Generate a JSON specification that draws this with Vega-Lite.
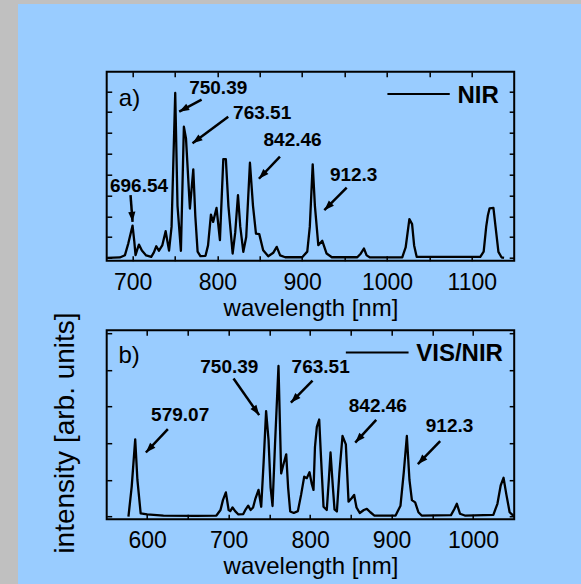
{
  "$schema": "https://vega.github.io/schema/vega-lite/v6.json",
  "background": "#99CCFF",
  "padding": 0,
  "spacing": 0,
  "bounds": "flush",
  "config": {
    "font": "Liberation Sans",
    "axis": {"domain": false, "grid": false, "tickColor": "black", "tickWidth": 1.5, "tickSize": -5, "labelColor": "black", "labelFont": "Liberation Sans", "titleFont": "Liberation Sans", "titleColor": "black", "titleFontWeight": "normal", "labelFlush": false, "labelOverlap": false},
    "text": {"font": "Liberation Sans", "color": "black"}
  },
  "datasets": {
    "nir": [
      {"w": 670, "v": 0.0}, {"w": 685, "v": 0.02}, {"w": 691, "v": 0.13}, {"w": 695, "v": 0.7}, {"w": 700, "v": 1.55}, {"w": 702, "v": 0.8}, {"w": 703.5, "v": 0.13}, {"w": 705.5, "v": 0.4}, {"w": 707.5, "v": 0.64}, {"w": 711, "v": 0.35}, {"w": 716, "v": 0.12}, {"w": 722, "v": 0.05}, {"w": 725, "v": 0.25}, {"w": 728, "v": 0.56}, {"w": 731, "v": 0.34}, {"w": 735, "v": 0.6}, {"w": 739, "v": 1.28}, {"w": 743, "v": 0.35}, {"w": 746, "v": 1.5}, {"w": 750.3, "v": 7.92}, {"w": 753, "v": 2.5}, {"w": 757, "v": 0.34}, {"w": 760.5, "v": 6.3}, {"w": 763, "v": 5.74}, {"w": 767.6, "v": 2.37}, {"w": 771.6, "v": 4.25}, {"w": 774, "v": 2.0}, {"w": 776.7, "v": 0.3}, {"w": 780, "v": 0.08}, {"w": 786, "v": 0.1}, {"w": 789, "v": 0.6}, {"w": 792.4, "v": 2.08}, {"w": 795, "v": 1.73}, {"w": 799, "v": 2.4}, {"w": 803, "v": 0.85}, {"w": 807, "v": 4.74}, {"w": 810, "v": 4.74}, {"w": 813, "v": 2.5}, {"w": 818, "v": 0.21}, {"w": 821, "v": 1.2}, {"w": 824.3, "v": 3.01}, {"w": 827, "v": 1.5}, {"w": 830.6, "v": 0.29}, {"w": 834, "v": 1.0}, {"w": 838.4, "v": 4.57}, {"w": 842, "v": 2.5}, {"w": 845.5, "v": 1.17}, {"w": 849.4, "v": 1.14}, {"w": 854, "v": 0.37}, {"w": 860, "v": 0.08}, {"w": 866, "v": 0.25}, {"w": 870, "v": 0.53}, {"w": 874, "v": 0.12}, {"w": 880, "v": 0.03}, {"w": 900, "v": 0.03}, {"w": 906, "v": 0.3}, {"w": 909, "v": 1.5}, {"w": 912.4, "v": 4.49}, {"w": 915, "v": 2.5}, {"w": 919, "v": 0.61}, {"w": 923.7, "v": 0.82}, {"w": 928.8, "v": 0.21}, {"w": 935, "v": 0.03}, {"w": 965, "v": 0.03}, {"w": 969, "v": 0.2}, {"w": 972.8, "v": 0.45}, {"w": 976, "v": 0.12}, {"w": 980, "v": 0.02}, {"w": 1018, "v": 0.03}, {"w": 1022, "v": 0.5}, {"w": 1026.4, "v": 1.86}, {"w": 1029.6, "v": 1.62}, {"w": 1032, "v": 0.6}, {"w": 1035, "v": 0.05}, {"w": 1110, "v": 0.05}, {"w": 1114, "v": 0.3}, {"w": 1117, "v": 1.5}, {"w": 1119, "v": 2.05}, {"w": 1121, "v": 2.38}, {"w": 1125.5, "v": 2.4}, {"w": 1128, "v": 1.5}, {"w": 1131.4, "v": 0.29}, {"w": 1135, "v": 0.03}, {"w": 1138, "v": 0.0}
    ],
    "vis": [
      {"w": 577, "v": 0.0}, {"w": 581, "v": 0.82}, {"w": 585.3, "v": 2.11}, {"w": 588, "v": 1.0}, {"w": 592, "v": 0.09}, {"w": 600, "v": 0.06}, {"w": 620, "v": 0.03}, {"w": 660, "v": 0.02}, {"w": 685, "v": 0.03}, {"w": 690, "v": 0.18}, {"w": 693, "v": 0.45}, {"w": 696.6, "v": 0.66}, {"w": 700, "v": 0.18}, {"w": 702, "v": 0.15}, {"w": 704.8, "v": 0.25}, {"w": 708, "v": 0.15}, {"w": 712, "v": 0.06}, {"w": 718, "v": 0.07}, {"w": 721, "v": 0.2}, {"w": 724, "v": 0.3}, {"w": 727, "v": 0.18}, {"w": 730, "v": 0.25}, {"w": 733, "v": 0.5}, {"w": 736.7, "v": 0.73}, {"w": 740, "v": 0.27}, {"w": 743, "v": 1.5}, {"w": 746, "v": 2.88}, {"w": 749, "v": 2.09}, {"w": 751.5, "v": 0.8}, {"w": 753.9, "v": 0.29}, {"w": 757, "v": 2.0}, {"w": 761.2, "v": 4.11}, {"w": 764.5, "v": 1.18}, {"w": 767, "v": 1.4}, {"w": 770.7, "v": 1.7}, {"w": 773, "v": 0.8}, {"w": 775.6, "v": 0.14}, {"w": 780, "v": 0.1}, {"w": 785, "v": 0.15}, {"w": 789, "v": 0.6}, {"w": 792.8, "v": 1.09}, {"w": 796, "v": 1.05}, {"w": 799.3, "v": 1.21}, {"w": 802, "v": 0.9}, {"w": 804.2, "v": 0.73}, {"w": 806, "v": 1.9}, {"w": 808.3, "v": 2.45}, {"w": 811.2, "v": 2.65}, {"w": 813, "v": 1.8}, {"w": 816.5, "v": 0.27}, {"w": 820.5, "v": 0.18}, {"w": 823, "v": 1.0}, {"w": 825.1, "v": 1.75}, {"w": 828, "v": 0.8}, {"w": 830, "v": 0.2}, {"w": 832.9, "v": 0.14}, {"w": 836, "v": 1.2}, {"w": 839.8, "v": 2.2}, {"w": 843.9, "v": 1.97}, {"w": 847.2, "v": 0.41}, {"w": 851, "v": 0.5}, {"w": 854.1, "v": 0.59}, {"w": 857, "v": 0.25}, {"w": 861, "v": 0.1}, {"w": 866, "v": 0.18}, {"w": 869.7, "v": 0.21}, {"w": 874, "v": 0.12}, {"w": 879, "v": 0.03}, {"w": 905, "v": 0.03}, {"w": 911, "v": 0.3}, {"w": 915, "v": 1.2}, {"w": 918.8, "v": 2.2}, {"w": 922, "v": 1.0}, {"w": 925, "v": 0.45}, {"w": 929, "v": 0.39}, {"w": 933, "v": 0.12}, {"w": 937, "v": 0.03}, {"w": 973, "v": 0.04}, {"w": 977, "v": 0.2}, {"w": 980.2, "v": 0.35}, {"w": 984, "v": 0.08}, {"w": 990, "v": 0.03}, {"w": 1025, "v": 0.05}, {"w": 1030, "v": 0.35}, {"w": 1034, "v": 0.85}, {"w": 1037.5, "v": 1.06}, {"w": 1041, "v": 0.6}, {"w": 1045, "v": 0.12}, {"w": 1049.8, "v": 0.02}
    ],
    "numA": [
      {"w": 707.6, "v": 3.14, "label": "696.54"}, {"w": 801, "v": 7.85, "label": "750.39"}, {"w": 852.8, "v": 6.65, "label": "763.51"}, {"w": 888.7, "v": 5.37, "label": "842.46"}, {"w": 960.7, "v": 3.7, "label": "912.3"}
    ],
    "arrA": [
      {"w": 697.6, "v": 3.01, "w2": 700, "v2": 1.73, "angle": 175.7}, {"w": 781.4, "v": 7.6, "w2": 755, "v2": 7.02, "angle": 241.1}, {"w": 812.8, "v": 6.78, "w2": 770.7, "v2": 5.5, "angle": 233.2}, {"w": 873.8, "v": 4.86, "w2": 849, "v2": 3.8, "angle": 223.7}, {"w": 952.5, "v": 3.37, "w2": 926.1, "v2": 2.29, "angle": 225}
    ],
    "legLineA": [{"w": 1000.5, "w2": 1074, "v": 7.87}],
    "legTextA": [{"w": 1083, "v": 7.42, "label": "NIR"}],
    "panelA": [{"w": 683.8, "v": 7.31, "label": "a)"}],
    "numB": [
      {"w": 640.5, "v": 2.62, "label": "579.07"}, {"w": 700.9, "v": 3.93, "label": "750.39"}, {"w": 813, "v": 3.93, "label": "763.51"}, {"w": 883.2, "v": 2.86, "label": "842.46"}, {"w": 971.2, "v": 2.32, "label": "912.3"}
    ],
    "arrB": [
      {"w": 625.4, "v": 2.39, "w2": 598.4, "v2": 1.75, "angle": 223.3}, {"w": 706, "v": 3.77, "w2": 737.5, "v2": 2.77, "angle": 145}, {"w": 803, "v": 3.71, "w2": 776.4, "v2": 3.11, "angle": 224.6}, {"w": 881.2, "v": 2.64, "w2": 855.4, "v2": 2.02, "angle": 222.8}, {"w": 959.7, "v": 2.06, "w2": 932.3, "v2": 1.43, "angle": 223.7}
    ],
    "legLineB": [{"w": 843.9, "w2": 920.9, "v": 4.48}],
    "legTextB": [{"w": 930.3, "v": 4.25, "label": "VIS/NIR"}],
    "panelB": [{"w": 564.8, "v": 4.18, "label": "b)"}]
  },
  "vconcat": [
    {
      "width": 581, "height": 4,
      "view": {"fill": "#C0C0C0", "stroke": null},
      "data": {"values": []},
      "mark": "point",
      "encoding": {}
    },
    {
      "spacing": 88.7,
      "bounds": "flush",
      "hconcat": [
        {
          "width": 18, "height": 580,
          "view": {"fill": "#C0C0C0", "stroke": null},
          "data": {"values": []},
          "mark": "point",
          "encoding": {}
        },
        {
          "spacing": 66.7,
          "bounds": "flush",
          "vconcat": [
            {
              "width": 407.5, "height": 1,
              "view": {"stroke": null},
              "data": {"values": []},
              "mark": "point",
              "encoding": {}
            },
            {
              "spacing": 69.5,
              "bounds": "flush",
              "vconcat": [
                {
                  "width": 407.5, "height": 189,
                  "view": {"stroke": "black", "strokeWidth": 2},
                  "resolve": {"axis": {"x": "independent", "y": "independent"}},
                  "layer": [
                    {
                      "data": {"name": "nir"},
                      "mark": {"type": "line", "color": "black", "strokeWidth": 2.3, "strokeJoin": "round", "clip": true},
                      "encoding": {
                        "x": {"field": "w", "type": "quantitative", "scale": {"domain": [669.5, 1150], "nice": false, "zero": false},
                          "axis": {"orient": "bottom", "values": [700, 750, 800, 850, 900, 950, 1000, 1050, 1100], "labelExpr": "datum.value % 100 === 0 ? '' + datum.value : ''", "labelFontSize": 23, "labelBaseline": "alphabetic", "labelPadding": 33.8, "title": "wavelength [nm]", "titleFontSize": 24, "titleBaseline": "alphabetic", "titleAlign": "center", "titleX": 203.75, "titleY": 54.5}},
                        "y": {"field": "v", "type": "quantitative", "scale": {"domain": [-0.135, 8.94], "nice": false, "zero": false},
                          "axis": {"orient": "left", "values": [0, 1, 2, 3, 4, 5, 6, 7, 8], "labels": false, "title": null}}
                      }
                    },
                    {
                      "data": {"name": "numA"},
                      "mark": {"type": "text", "fontWeight": "bold", "fontSize": 19, "align": "center", "baseline": "alphabetic", "color": "black"},
                      "encoding": {
                        "x": {"field": "w", "type": "quantitative", "scale": {"domain": [669.5, 1150], "nice": false, "zero": false},
                          "axis": {"orient": "top", "values": [700, 750, 800, 850, 900, 950, 1000, 1050, 1100], "labels": false, "title": null}},
                        "y": {"field": "v", "type": "quantitative", "scale": {"domain": [-0.135, 8.94], "nice": false, "zero": false},
                          "axis": {"orient": "right", "values": [0, 1, 2, 3, 4, 5, 6, 7, 8], "labels": false, "title": null}},
                        "text": {"field": "label"}
                      }
                    },
                    {
                      "data": {"name": "arrA"},
                      "mark": {"type": "rule", "color": "black", "strokeWidth": 2.5},
                      "encoding": {
                        "x": {"field": "w", "type": "quantitative", "scale": {"domain": [669.5, 1150], "nice": false, "zero": false}, "axis": null},
                        "y": {"field": "v", "type": "quantitative", "scale": {"domain": [-0.135, 8.94], "nice": false, "zero": false}, "axis": null},
                        "x2": {"field": "w2"},
                        "y2": {"field": "v2"}
                      }
                    },
                    {
                      "data": {"name": "arrA"},
                      "mark": {"type": "point", "shape": "M0,0L-0.36,1L0.36,1Z", "filled": true, "color": "black", "opacity": 1, "size": 400},
                      "encoding": {
                        "x": {"field": "w2", "type": "quantitative", "scale": {"domain": [669.5, 1150], "nice": false, "zero": false}, "axis": null},
                        "y": {"field": "v2", "type": "quantitative", "scale": {"domain": [-0.135, 8.94], "nice": false, "zero": false}, "axis": null},
                        "angle": {"field": "angle", "type": "quantitative", "scale": null}
                      }
                    },
                    {
                      "data": {"name": "legLineA"},
                      "mark": {"type": "rule", "color": "black", "strokeWidth": 2},
                      "encoding": {
                        "x": {"field": "w", "type": "quantitative", "scale": {"domain": [669.5, 1150], "nice": false, "zero": false}, "axis": null},
                        "x2": {"field": "w2"},
                        "y": {"field": "v", "type": "quantitative", "scale": {"domain": [-0.135, 8.94], "nice": false, "zero": false}, "axis": null}
                      }
                    },
                    {
                      "data": {"name": "legTextA"},
                      "mark": {"type": "text", "fontWeight": "bold", "fontSize": 24, "align": "left", "baseline": "alphabetic", "color": "black"},
                      "encoding": {
                        "x": {"field": "w", "type": "quantitative", "scale": {"domain": [669.5, 1150], "nice": false, "zero": false}, "axis": null},
                        "y": {"field": "v", "type": "quantitative", "scale": {"domain": [-0.135, 8.94], "nice": false, "zero": false}, "axis": null},
                        "text": {"field": "label"}
                      }
                    },
                    {
                      "data": {"name": "panelA"},
                      "mark": {"type": "text", "fontWeight": "normal", "fontSize": 24, "align": "left", "baseline": "alphabetic", "color": "black"},
                      "encoding": {
                        "x": {"field": "w", "type": "quantitative", "scale": {"domain": [669.5, 1150], "nice": false, "zero": false}, "axis": null},
                        "y": {"field": "v", "type": "quantitative", "scale": {"domain": [-0.135, 8.94], "nice": false, "zero": false}, "axis": null},
                        "text": {"field": "label"}
                      }
                    }
                  ]
                },
                {
                  "width": 407.5, "height": 189,
                  "view": {"stroke": "black", "strokeWidth": 2},
                  "resolve": {"axis": {"x": "independent", "y": "independent"}},
                  "layer": [
                    {
                      "data": {"name": "vis"},
                      "mark": {"type": "line", "color": "black", "strokeWidth": 2.3, "strokeJoin": "round", "clip": true},
                      "encoding": {
                        "x": {"field": "w", "type": "quantitative", "scale": {"domain": [550.3, 1050.6], "nice": false, "zero": false},
                          "axis": {"orient": "bottom", "values": [600, 650, 700, 750, 800, 850, 900, 950, 1000], "labelExpr": "datum.value % 100 === 0 ? '' + datum.value : ''", "labelFontSize": 23, "labelBaseline": "alphabetic", "labelPadding": 33.4, "title": "wavelength [nm]", "titleFontSize": 24, "titleBaseline": "alphabetic", "titleAlign": "center", "titleX": 203.75, "titleY": 54}},
                        "y": {"field": "v", "type": "quantitative", "scale": {"domain": [-0.07, 5.086], "nice": false, "zero": false},
                          "axis": {"orient": "left", "values": [0, 1, 2, 3, 4, 5], "labels": false, "title": "intensity [arb. units]", "titleFontSize": 28, "titleAngle": -90, "titleBaseline": "alphabetic", "titleAlign": "center", "titleX": -33.4, "titleY": 102.3}}
                      }
                    },
                    {
                      "data": {"name": "numB"},
                      "mark": {"type": "text", "fontWeight": "bold", "fontSize": 19, "align": "center", "baseline": "alphabetic", "color": "black"},
                      "encoding": {
                        "x": {"field": "w", "type": "quantitative", "scale": {"domain": [550.3, 1050.6], "nice": false, "zero": false},
                          "axis": {"orient": "top", "values": [600, 650, 700, 750, 800, 850, 900, 950, 1000], "labels": false, "title": null}},
                        "y": {"field": "v", "type": "quantitative", "scale": {"domain": [-0.07, 5.086], "nice": false, "zero": false},
                          "axis": {"orient": "right", "values": [0, 1, 2, 3, 4, 5], "labels": false, "title": null}},
                        "text": {"field": "label"}
                      }
                    },
                    {
                      "data": {"name": "arrB"},
                      "mark": {"type": "rule", "color": "black", "strokeWidth": 2.5},
                      "encoding": {
                        "x": {"field": "w", "type": "quantitative", "scale": {"domain": [550.3, 1050.6], "nice": false, "zero": false}, "axis": null},
                        "y": {"field": "v", "type": "quantitative", "scale": {"domain": [-0.07, 5.086], "nice": false, "zero": false}, "axis": null},
                        "x2": {"field": "w2"},
                        "y2": {"field": "v2"}
                      }
                    },
                    {
                      "data": {"name": "arrB"},
                      "mark": {"type": "point", "shape": "M0,0L-0.36,1L0.36,1Z", "filled": true, "color": "black", "opacity": 1, "size": 400},
                      "encoding": {
                        "x": {"field": "w2", "type": "quantitative", "scale": {"domain": [550.3, 1050.6], "nice": false, "zero": false}, "axis": null},
                        "y": {"field": "v2", "type": "quantitative", "scale": {"domain": [-0.07, 5.086], "nice": false, "zero": false}, "axis": null},
                        "angle": {"field": "angle", "type": "quantitative", "scale": null}
                      }
                    },
                    {
                      "data": {"name": "legLineB"},
                      "mark": {"type": "rule", "color": "black", "strokeWidth": 2},
                      "encoding": {
                        "x": {"field": "w", "type": "quantitative", "scale": {"domain": [550.3, 1050.6], "nice": false, "zero": false}, "axis": null},
                        "x2": {"field": "w2"},
                        "y": {"field": "v", "type": "quantitative", "scale": {"domain": [-0.07, 5.086], "nice": false, "zero": false}, "axis": null}
                      }
                    },
                    {
                      "data": {"name": "legTextB"},
                      "mark": {"type": "text", "fontWeight": "bold", "fontSize": 24, "align": "left", "baseline": "alphabetic", "color": "black"},
                      "encoding": {
                        "x": {"field": "w", "type": "quantitative", "scale": {"domain": [550.3, 1050.6], "nice": false, "zero": false}, "axis": null},
                        "y": {"field": "v", "type": "quantitative", "scale": {"domain": [-0.07, 5.086], "nice": false, "zero": false}, "axis": null},
                        "text": {"field": "label"}
                      }
                    },
                    {
                      "data": {"name": "panelB"},
                      "mark": {"type": "text", "fontWeight": "normal", "fontSize": 24, "align": "left", "baseline": "alphabetic", "color": "black"},
                      "encoding": {
                        "x": {"field": "w", "type": "quantitative", "scale": {"domain": [550.3, 1050.6], "nice": false, "zero": false}, "axis": null},
                        "y": {"field": "v", "type": "quantitative", "scale": {"domain": [-0.07, 5.086], "nice": false, "zero": false}, "axis": null},
                        "text": {"field": "label"}
                      }
                    }
                  ]
                }
              ]
            }
          ]
        }
      ]
    }
  ]
}
